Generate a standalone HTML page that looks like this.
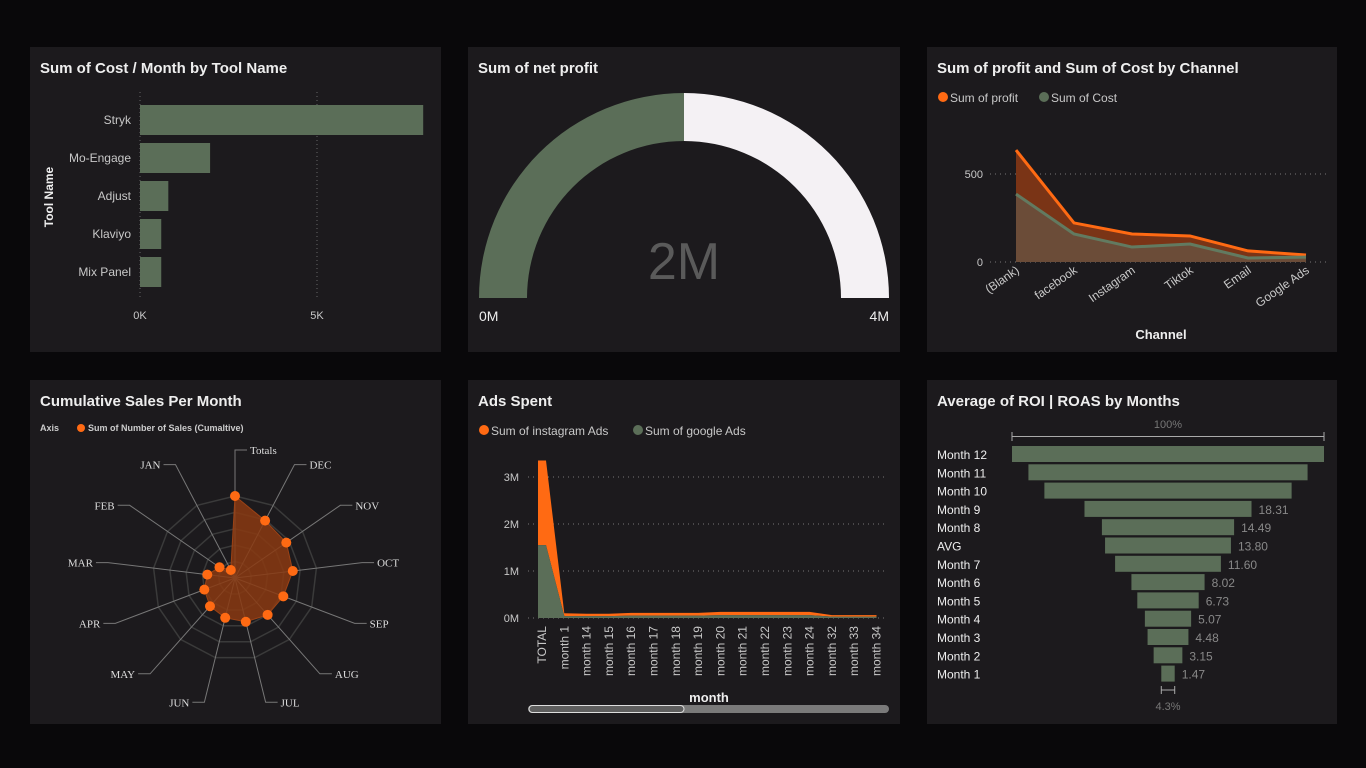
<!DOCTYPE html>
<html><head><meta charset="utf-8"><style>
body{margin:0;background:#09080a;width:1366px;height:768px;overflow:hidden;font-family:"Liberation Sans",sans-serif}
svg{display:block}
</style></head><body>
<svg id="s" width="1366" height="768" viewBox="0 0 1366 768" xmlns="http://www.w3.org/2000/svg" font-family="Liberation Sans, sans-serif">
<rect width="1366" height="768" fill="#09080a"/>
<g><rect x="30" y="47" width="411" height="305" fill="#1c1a1d"/>
<text x="40" y="73" fill="#eee" font-size="15" font-weight="600">Sum of Cost / Month by Tool Name</text></g>
<g><rect x="468" y="47" width="432" height="305" fill="#1c1a1d"/>
<text x="478" y="73" fill="#eee" font-size="15" font-weight="600">Sum of net profit</text></g>
<g><rect x="927" y="47" width="410" height="305" fill="#1c1a1d"/>
<text x="937" y="73" fill="#eee" font-size="15" font-weight="600">Sum of profit and Sum of Cost by Channel</text></g>
<g><rect x="30" y="380" width="411" height="344" fill="#1c1a1d"/>
<text x="40" y="406" fill="#eee" font-size="15" font-weight="600">Cumulative Sales Per Month</text></g>
<g><rect x="468" y="380" width="432" height="344" fill="#1c1a1d"/>
<text x="478" y="406" fill="#eee" font-size="15" font-weight="600">Ads Spent</text></g>
<g><rect x="927" y="380" width="410" height="344" fill="#1c1a1d"/>
<text x="937" y="406" fill="#eee" font-size="15" font-weight="600">Average of ROI | ROAS by Months</text></g>
<g id="g1"></g><g id="g2"></g><g id="g3"></g><g id="g4"></g><g id="g5"></g><g id="g6"></g>
</svg>
<script>
const NS="http://www.w3.org/2000/svg";
function mk(p,t,a,txt){const e=document.createElementNS(NS,t);for(const k in a)e.setAttribute(k,a[k]);if(txt!=null)e.textContent=txt;p.appendChild(e);return e;}

// ---- Chart 1 data
const toolNames=["Stryk","Mo-Engage","Adjust","Klaviyo","Mix Panel"];
const toolCost=[8.0,1.98,0.8,0.6,0.6];
const toolTicks=[0,5];
// ---- Chart 2 data
const netProfit=2; const gaugeMax=4;
// ---- Chart 3 data
const channels=["(Blank)","facebook","Instagram","Tiktok","Email","Google Ads"];
const channelProfit=[636,222,159,148,63,40];
const channelCost=[386,159,85,102,23,28];
const channelTicks=[0,500];
// ---- Chart 4 data
const radarAxes=["Totals","DEC","NOV","OCT","SEP","AUG","JUL","JUN","MAY","APR","MAR","FEB","JAN"];
const radarValues=[100,79,76,71,63,60,55,50,46,40,34,23,11];
// ---- Chart 5 data
const adMonths=["TOTAL","month 1","month 14","month 15","month 16","month 17","month 18","month 19","month 20","month 21","month 22","month 23","month 24","month 32","month 33","month 34"];
const googleAds=[1.55,0.04,0.04,0.04,0.05,0.05,0.05,0.05,0.06,0.06,0.06,0.06,0.06,0.03,0.03,0.03];
const instaAds=[1.8,0.06,0.05,0.05,0.06,0.06,0.06,0.06,0.07,0.07,0.07,0.07,0.07,0.03,0.03,0.03];
const adTicks=[0,1,2,3];
// ---- Chart 6 data
const funnelLabels=["Month 12","Month 11","Month 10","Month 9","Month 8","AVG","Month 7","Month 6","Month 5","Month 4","Month 3","Month 2","Month 1"];
const funnelValues=[34.2,30.6,27.1,18.31,14.49,13.80,11.60,8.02,6.73,5.07,4.48,3.15,1.47];

const GREEN="#5b6e58",OR="#ff6a13",TX="#c8c8c8";

// Chart 1
(function(){const g=document.getElementById('g1');
const x=v=>140+v*35.4; const y0=105, step=38, bh=30;
toolTicks.forEach(t=>{let l=mk(g,'line',{x1:x(t),x2:x(t),y1:92,y2:300,stroke:'#666','stroke-dasharray':'1 3'});
let tx=mk(g,'text',{x:x(t),y:319,fill:TX,'font-size':11,'text-anchor':'middle'},t+'K');});
toolNames.forEach((n,i)=>{const yy=y0+i*step;
let r=mk(g,'rect',{x:x(0),y:yy,width:x(toolCost[i])-x(0),height:bh,fill:GREEN});
let t=mk(g,'text',{x:131,y:yy+19,fill:TX,'font-size':12,'text-anchor':'end'},n);});
let at=mk(g,'text',{x:0,y:0,fill:'#eee','font-size':12,'font-weight':'bold','text-anchor':'middle',transform:'translate(53,197) rotate(-90)'},'Tool Name');
})();

// Chart 2 gauge
(function(){const g=document.getElementById('g2');const cx=684,cy=298,R=205,r=157;
function arc(a0,a1,fill,name){const p=(a,rad)=>[cx-rad*Math.cos(a),cy-rad*Math.sin(a)];
const [x0,y0]=p(a0,R),[x1,y1]=p(a1,R),[x2,y2]=p(a1,r),[x3,y3]=p(a0,r);
let e=mk(g,'path',{d:`M${x0},${y0} A${R},${R} 0 0 1 ${x1},${y1} L${x2},${y2} A${r},${r} 0 0 0 ${x3},${y3} Z`,fill});}
const f=netProfit/gaugeMax*Math.PI;
arc(0,f,GREEN,'gauge-value-arc');arc(f,Math.PI,'#f4f1f4','gauge-remaining-arc');
let t=mk(g,'text',{x:cx,y:279,fill:'#5a5a5a','font-size':52,'text-anchor':'middle'},netProfit+'M');
let a=mk(g,'text',{x:479,y:321,fill:'#eee','font-size':14},'0M');
let b=mk(g,'text',{x:889,y:321,fill:'#eee','font-size':14,'text-anchor':'end'},gaugeMax+'M');
})();

// Chart 3
(function(){const g=document.getElementById('g3');
const x=i=>1016+i*58, y=v=>262-v*0.176;
let l1=mk(g,'circle',{cx:943,cy:97,r:5,fill:OR});
let l1t=mk(g,'text',{x:950,y:102,fill:TX,'font-size':12},'Sum of profit');
let l2=mk(g,'circle',{cx:1044,cy:97,r:5,fill:GREEN});
let l2t=mk(g,'text',{x:1051,y:102,fill:TX,'font-size':12},'Sum of Cost');
channelTicks.forEach(t=>{let l=mk(g,'line',{x1:990,x2:1327,y1:y(t),y2:y(t),stroke:'#777','stroke-dasharray':'1 4'});
let tx=mk(g,'text',{x:983,y:y(t)+4,fill:TX,'font-size':11,'text-anchor':'end'},t);});
function area(vals,fill,stroke,name){let pts=vals.map((v,i)=>x(i)+','+y(v)).join(' ');
let a=mk(g,'polygon',{points:`${x(0)},${y(0)} ${pts} ${x(vals.length-1)},${y(0)}`,fill});
let p=mk(g,'polyline',{points:pts,fill:'none',stroke,'stroke-width':3});}
area(channelProfit,'#7a3416',OR,'profit');area(channelCost,'#6b4c38','#627a60','cost');
channels.forEach((c,i)=>{let t=mk(g,'text',{x:0,y:0,fill:TX,'font-size':12,'text-anchor':'end',transform:`translate(${x(i)+4},${272}) rotate(-35)`},c);});
let at=mk(g,'text',{x:1161,y:339,fill:'#eee','font-size':13,'font-weight':'bold','text-anchor':'middle'},'Channel');
})();

// Chart 4 radar
(function(){const g=document.getElementById('g4');const cx=235,cy=578,R=82,maxV=100;
let lg=mk(g,'text',{x:40,y:431,fill:'#ccc','font-size':9,'font-weight':'bold'},'Axis');
let lc=mk(g,'circle',{cx:81,cy:428,r:4,fill:OR});
let lt=mk(g,'text',{x:88,y:431,fill:'#ccc','font-size':9,'font-weight':'bold'},'Sum of Number of Sales (Cumaltive)');
const n=radarAxes.length;const ang=i=>-Math.PI/2+i*2*Math.PI/n;
[0.2,0.4,0.6,0.8,1].forEach(f=>{let pts=[];for(let i=0;i<n;i++)pts.push((cx+R*f*Math.cos(ang(i)))+','+(cy+R*f*Math.sin(ang(i))));
let c=mk(g,'polygon',{points:pts.join(' '),fill:'none',stroke:'#3a3a3a','stroke-width':1.5});});
radarAxes.forEach((a,i)=>{const c=Math.cos(ang(i)),s=Math.sin(ang(i));const ex=cx+128*c,ey=cy+128*s;const right=c>=-0.01;
const lx=ex+(right?12:-12);
let l=mk(g,'polyline',{points:`${cx},${cy} ${ex},${ey} ${lx},${ey}`,fill:'none',stroke:'#777','stroke-width':1});
let t=mk(g,'text',{x:lx+(right?3:-3),y:ey+4,fill:'#ddd','font-size':11,'font-family':'Liberation Serif, serif','text-anchor':right?'start':'end'},a);});
const P=radarValues.map((v,i)=>[cx+R*v/maxV*Math.cos(ang(i)),cy+R*v/maxV*Math.sin(ang(i))]);
let poly=mk(g,'polygon',{points:P.map(p=>p.join(',')).join(' '),fill:'#8a3a12','fill-opacity':0.85,stroke:'#9a4216'});
P.forEach((p,i)=>{let c=mk(g,'circle',{cx:p[0],cy:p[1],r:5,fill:OR});});
})();

// Chart 5 ads
(function(){const g=document.getElementById('g5');
const x=i=>542+i*22.3, y=v=>618-v*47;
let a1=mk(g,'circle',{cx:484,cy:430,r:5,fill:OR});
let a1t=mk(g,'text',{x:491,y:435,fill:TX,'font-size':12},'Sum of instagram Ads');
let a2=mk(g,'circle',{cx:638,cy:430,r:5,fill:GREEN});
let a2t=mk(g,'text',{x:645,y:435,fill:TX,'font-size':12},'Sum of google Ads');
adTicks.forEach(t=>{let l=mk(g,'line',{x1:528,x2:887,y1:y(t),y2:y(t),stroke:'#777','stroke-dasharray':'1 4'});
let tx=mk(g,'text',{x:519,y:y(t)+4,fill:TX,'font-size':11,'text-anchor':'end'},t+'M');});
const tot=googleAds.map((v,i)=>v+instaAds[i]);
function pts(vals){let s=[];vals.forEach((v,i)=>{if(i==0){s.push([x(0)-4,y(v)],[x(0)+4,y(v)]);}else s.push([x(i),y(v)]);});return s;}
const top=pts(tot),bot=pts(googleAds);
let ia=mk(g,'polygon',{points:top.map(p=>p.join(',')).join(' ')+' '+bot.slice().reverse().map(p=>p.join(',')).join(' '),fill:OR});
let ga=mk(g,'polygon',{points:`${x(0)-4},${y(0)} `+bot.map(p=>p.join(',')).join(' ')+` ${x(googleAds.length-1)},${y(0)}`,fill:GREEN});
adMonths.forEach((m,i)=>{let t=mk(g,'text',{x:0,y:0,fill:TX,'font-size':12,'text-anchor':'end',transform:`translate(${x(i)+4},${626}) rotate(-90)`},m);});
let at=mk(g,'text',{x:709,y:702,fill:'#eee','font-size':13,'font-weight':'bold','text-anchor':'middle'},'month');
let sb=mk(g,'rect',{x:528,y:705,width:361,height:8,rx:4,fill:'#7a7a7a'});
let th=mk(g,'rect',{x:529,y:705.5,width:155,height:7,rx:3.5,fill:'#5e5e5e',stroke:'#ddd'});
})();

// Chart 6 funnel
(function(){const g=document.getElementById('g6');const cx=1168,k=312/funnelValues[0],y0=446,step=18.3,bh=16;
let b=mk(g,'path',{d:'M1012,432 V441 M1012,436.5 H1324 M1324,432 V441',stroke:'#aaa',fill:'none'});
let bt=mk(g,'text',{x:cx,y:428,fill:'#777','font-size':11,'text-anchor':'middle'},'100%');
funnelLabels.forEach((l,i)=>{const w=funnelValues[i]*k,yy=y0+i*step;
let r=mk(g,'rect',{x:cx-w/2,y:yy,width:w,height:bh,fill:GREEN});
let t=mk(g,'text',{x:937,y:yy+13,fill:'#eee','font-size':12},l);
if(i>=3){let v=mk(g,'text',{x:cx+w/2+7,y:yy+13,fill:'#888','font-size':12},funnelValues[i].toFixed(2));}});
const lastW=funnelValues[funnelValues.length-1]*k;
let bb=mk(g,'path',{d:`M${cx-lastW/2},686 V694 M${cx-lastW/2},690 H${cx+lastW/2} M${cx+lastW/2},686 V694`,stroke:'#aaa',fill:'none'});
let p=(funnelValues[funnelValues.length-1]/funnelValues[0]*100).toFixed(1);
let bt2=mk(g,'text',{x:cx,y:710,fill:'#777','font-size':11,'text-anchor':'middle'},p+'%');
})();
</script>
</body></html>
